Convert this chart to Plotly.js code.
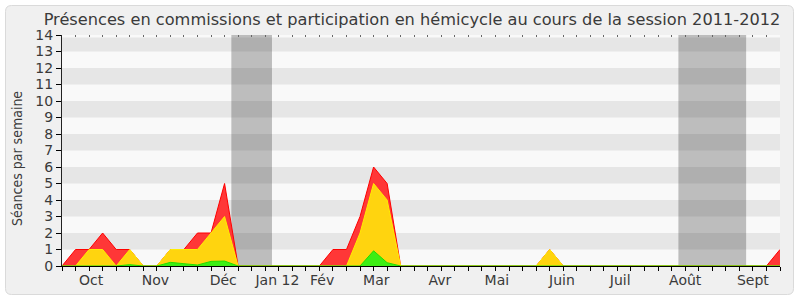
<!DOCTYPE html>
<html><head><meta charset="utf-8">
<script src="https://cdn.plot.ly/plotly-3.0.1.min.js"></script>
<style>html,body{margin:0;padding:0;background:#fff}#chart{width:800px;height:300px}</style>
</head><body><div id="chart"></div>
<script>
// Week index of the session (0 = first week of October 2011)
const weeks = [0,1,2,3,4,5,6,7,8,9,10,11,12,13,14,15,16,17,18,19,20,21,22,23,24,25,26,27,28,29,30,31,32,33,34,35,36,37,38,39,40,41,42,43,44,45,46,47,48,49,50,51,52,53];
// red
const presences = [0,1,1,2,1,1,0,0,1,1,2,2,5,0,0,0,0,0,0,0,1,1,3,6,5,0,0,0,0,0,0,0,0,0,0,0,1,0,0,0,0,0,0,0,0,0,0,0,0,0,0,0,0,1];
// yellow
const participations = [0,0,1,1,0,1,0,0,1,1,1,2,3,0,0,0,0,0,0,0,0,0,2,5,4,0,0,0,0,0,0,0,0,0,0,0,1,0,0,0,0,0,0,0,0,0,0,0,0,0,0,0,0,0];
// green
const interventions = [0,0,0.04,0.04,0,0.08,0,0,0.22,0.14,0.06,0.28,0.3,0,0,0,0,0,0,0,0,0,0,0.92,0.2,0,0,0,0,0,0,0,0,0,0,0,0.03,0,0,0,0,0,0,0,0,0,0,0,0,0,0,0,0,0];
// month labels and their week positions
const monthLabels = ['Oct','Nov','Déc','Jan 12','Fév','Mar','Avr','Mai','Juin','Juil','Août','Sept'];
const monthPos = [2.15,6.9,11.9,15.9,19.2,23.2,27.9,32.1,36.9,41.2,46.0,51.0];
// parliamentary holidays (week ranges)
const vacStart = [12.5,45.5];
const vacEnd = [15.5,50.5];
const yTicks = [0,1,2,3,4,5,6,7,8,9,10,11,12,13,14];

const FONT = 'DejaVu Sans, Verdana, sans-serif';
const TXT = '#3a3a3a';

// layout geometry
const W = 800, H = 300, ML = 62, MR = 20, MT = 35, MB = 34;
const PW = W - ML - MR, PH = H - MT - MB;
const px = v => (v - ML) / PW;
const py = v => (H - MB - v) / PH;

function roundRect(x0, y0, x1, y1, r) {
  const rx = r / PW, ry = r / PH;
  const a = px(x0), b = px(x1), top = py(y0), bot = py(y1);
  return `M${a+rx},${top} L${b-rx},${top} Q${b},${top} ${b},${top-ry} L${b},${bot+ry} Q${b},${bot} ${b-rx},${bot} L${a+rx},${bot} Q${a},${bot} ${a},${bot+ry} L${a},${top-ry} Q${a},${top} ${a+rx},${top} Z`;
}

const shapes = [];
shapes.push({type:'path', xref:'paper', yref:'paper', path: roundRect(5.5,5.5,793.5,294.5,6),
  fillcolor:'#f0f0f0', line:{color:'#dadada', width:1}, layer:'below'});
shapes.push({type:'rect', xref:'x', yref:'y', x0:0, x1:53, y0:0, y1:14, fillcolor:'#f9f9f9', line:{width:0}, layer:'below'});
for (let i = 1; i < 14; i += 2) {
  shapes.push({type:'rect', xref:'x', yref:'y', x0:0, x1:53, y0:i, y1:Math.min(i+1, 13.85),
    fillcolor:'#e6e6e6', line:{width:0}, layer:'below'});
}
for (let i = 0; i < vacStart.length; i++) {
  shapes.push({type:'rect', xref:'x', yref:'y', x0:vacStart[i], x1:vacEnd[i], y0:0, y1:14,
    fillcolor:'rgba(0,0,0,0.24)', line:{width:0}, layer:'below'});
}

const traces = [
  {x:weeks, y:presences, type:'scatter', mode:'lines', fill:'tozeroy',
   fillcolor:'rgb(255,55,55)', line:{color:'#ff0000', width:1}, hoverinfo:'skip', showlegend:false},
  {x:weeks, y:participations, type:'scatter', mode:'lines', fill:'tozeroy',
   fillcolor:'rgb(255,212,15)', line:{color:'#ffee00', width:1}, hoverinfo:'skip', showlegend:false},
  {x:weeks, y:interventions, type:'scatter', mode:'lines', fill:'tozeroy',
   fillcolor:'rgb(60,238,20)', line:{color:'#22dd00', width:1}, hoverinfo:'skip', showlegend:false},
  {x:[], y:[], xaxis:'x2', type:'scatter', showlegend:false, hoverinfo:'skip'},
  {x:[], y:[], xaxis:'x3', type:'scatter', showlegend:false, hoverinfo:'skip'}
];

const layout = {
  width: W, height: H,
  margin: {l:ML, r:MR, t:MT, b:MB},
  paper_bgcolor:'#ffffff', plot_bgcolor:'rgba(0,0,0,0)',
  font: {family: FONT, color: TXT},
  showlegend: false,
  title: {text:'Présences en commissions et participation en hémicycle au cours de la session 2011-2012',
    font:{family:FONT, size:16.2, color:TXT}, x:0.515, xref:'container', xanchor:'center',
    y:0.935, yref:'container', yanchor:'middle'},
  xaxis: {range:[0,53], tickmode:'linear', tick0:0, dtick:1, ticks:'outside', ticklen:4,
    tickcolor:'#000', tickwidth:1, showticklabels:false, showgrid:false, zeroline:false,
    showline:true, linecolor:'#000', linewidth:1, fixedrange:true},
  xaxis2: {overlaying:'x', anchor:'y', range:[0,53], tickmode:'array', tickvals:monthPos,
    ticktext:monthLabels, ticks:'outside', ticklen:1, tickcolor:'rgba(0,0,0,0)',
    showgrid:false, zeroline:false, showline:false, fixedrange:true,
    tickfont:{family:FONT, size:14, color:TXT}},
  xaxis3: {overlaying:'x', anchor:'y', side:'top', range:[0,53], tickmode:'linear', tick0:0, dtick:1,
    ticks:'inside', ticklen:2, tickcolor:'#666', showticklabels:false, showgrid:false,
    zeroline:false, showline:false, fixedrange:true},
  yaxis: {range:[0,14], tickmode:'array', tickvals:yTicks, ticks:'outside', ticklen:5,
    tickcolor:'#000', showline:true, linecolor:'#222', linewidth:1, showgrid:false, zeroline:false,
    fixedrange:true, tickfont:{family:FONT, size:14, color:TXT}},
  annotations: [{text:'Séances par semaine', textangle:-90, showarrow:false,
    xref:'paper', yref:'paper', x:px(17), y:py(159), xanchor:'center', yanchor:'middle',
    font:{family:'DejaVu Sans Condensed, DejaVu Sans, sans-serif', size:14, color:TXT}}],
  shapes: shapes
};

Plotly.newPlot('chart', traces, layout, {staticPlot:true, displayModeBar:false});
</script>
</body></html>
